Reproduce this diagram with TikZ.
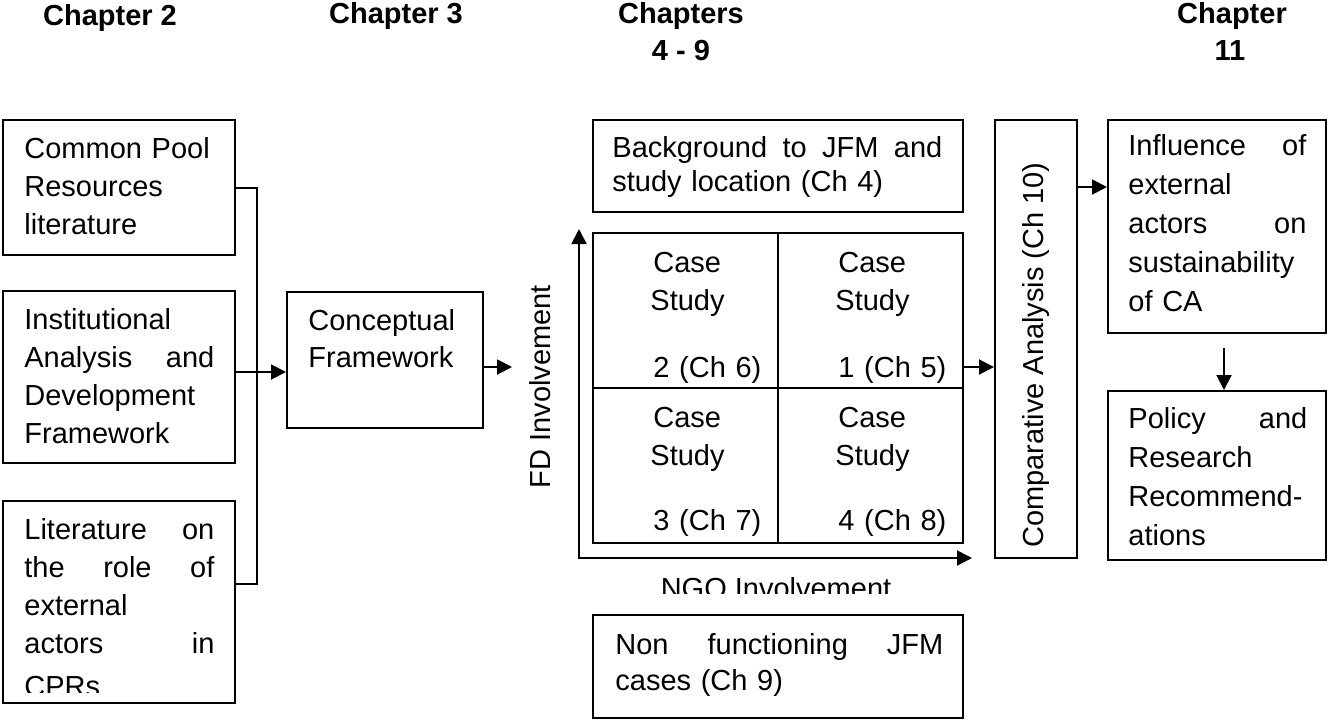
\documentclass[tikz,border=0pt]{standalone}
\usepackage{fontspec}
\setmainfont{Liberation Sans}
\usetikzlibrary{arrows.meta,fit}

\begin{document}
\begin{tikzpicture}[x=0.5pt, y=-0.5pt,
  frame/.style={draw, line width=1pt, inner sep=0pt},
  body/.style={anchor=base west, inner sep=0pt, align=left,
               font=\fontsize{14.5}{19}\selectfont},
  lab/.style={inner sep=0pt, font=\fontsize{14.5}{17}\selectfont},
  head/.style={anchor=base, inner sep=0pt, font=\bfseries\fontsize{14.5}{17}\selectfont},
  link/.style={line width=1pt},
  tip/.tip={Triangle[length=7.5pt,width=7.5pt]},
  arr/.style={line width=1pt, -tip},
]
\useasboundingbox (0,0) rectangle (1328,720);

% chapter headings
\node[head] (h2)   at (110,25)  {Chapter 2};
\node[head] (h3)   at (396,23)  {Chapter 3};
\node[head] (h49a) at (681,23)  {Chapters};
\node[head] (h49b) at (681,60)  {4 - 9};
\node[head] (h11a) at (1232,23) {Chapter};
\node[head] (h11b) at (1230,60) {11};

% frames
\node[frame, fit={(3,120)(235,255)}]      (b1)  {};
\node[frame, fit={(3,291)(235,463)}]      (b2)  {};
\node[frame, fit={(3,501)(235,703)}]      (b3)  {};
\node[frame, fit={(287,292)(483,428)}]    (cf)  {};
\node[frame, fit={(593,120)(963,212)}]    (bg)  {};
\node[frame, fit={(593,233)(778,388)}]    (c2)  {};
\node[frame, fit={(778,233)(963,388)}]    (c1)  {};
\node[frame, fit={(593,388)(778,543)}]    (c3)  {};
\node[frame, fit={(778,388)(963,543)}]    (c4)  {};
\node[frame, fit={(593,615)(963,718)}]    (nf)  {};
\node[frame, fit={(995,120)(1077,558)}]   (cmp) {};
\node[frame, fit={(1108,120)(1326,333)}]  (inf) {};
\node[frame, fit={(1108,391)(1326,560)}]  (pol) {};

% texts of the frames
\node[body, text width=95pt] (t1) at (24,158)
  {Common Pool\\Resources\\literature};
\node[body, text width=95pt] (t2) at (24,329)
  {Institutional\\Analysis\hfill and\\Development\\Framework};
\begin{scope}
  \clip (5,503) rectangle (233,692);
  \node[body, text width=95pt] (t3) at (24,539)
    {Literature\hfill on\\the\hfill role\hfill of\\external\\actors\hfill in\\[2.5pt]CPRs};
\end{scope}
\node[body, text width=80pt, font=\fontsize{14.5}{18.5}\selectfont] (tcf) at (308,330)
  {Conceptual\\Framework};
\node[body, text width=165pt, font=\fontsize{14.5}{17}\selectfont] (tbg) at (612,157)
  {Background\hfill to\hfill JFM\hfill and\\study location (Ch 4)};
\node[body, text width=60pt] (tc2) at (653,272) {Case\\\hspace*{-1.5pt}Study\\[14.5pt]2 (Ch 6)};
\node[body, text width=60pt] (tc1) at (838,272) {Case\\\hspace*{-1.5pt}Study\\[14.5pt]1 (Ch 5)};
\node[body, text width=60pt] (tc3) at (653,427) {Case\\\hspace*{-1.5pt}Study\\[13.5pt]3 (Ch 7)};
\node[body, text width=60pt] (tc4) at (838,427) {Case\\\hspace*{-1.5pt}Study\\[13.5pt]4 (Ch 8)};
\node[body, text width=164pt, font=\fontsize{14.5}{18}\selectfont] (tnf) at (615,654)
  {Non\hfill functioning\hfill JFM\\cases (Ch 9)};
\node[body, text width=89pt, font=\fontsize{14.5}{19.5}\selectfont] (tinf) at (1128,155)
  {Influence\hfill of\\external\\actors\hfill on\\sustainability\\of CA};
\node[body, text width=89.5pt, font=\fontsize{14.5}{19.5}\selectfont] (tpol) at (1128,428)
  {Policy\hfill and\\Research\\Recommend-\\ations};

% axis labels
\node[lab, rotate=90, anchor=base] (fd) at (550,386.5) {FD Involvement};
\node[lab, rotate=90, anchor=base west] (cat) at (1043,548) {Comparative Analysis (Ch 10)};
\begin{scope}
  \clip (560,566) rectangle (1000,593);
  \node[lab, anchor=base] (ngo) at (776,598) {NGO Involvement};
\end{scope}

% connectors
\coordinate (bus1) at (257,188);
\coordinate (bus2) at (257,372);
\coordinate (bus3) at (257,584);
\draw[link] (b1.east |- bus1) -- (bus1) -- (bus3) -- (b3.east |- bus3);
\draw[arr] (b2.east |- bus2) -- (cf.west |- bus2);

\coordinate (fdin) at (512,367);
\draw[arr] (cf.east |- fdin) -- (fdin);

\coordinate (fdtip)  at (579,229);
\coordinate (ngotip) at (972,558);
\draw[line width=1pt, tip-tip] (fdtip) |- (ngotip);

\coordinate (toc) at (963,367);
\draw[arr] (c1.east |- toc) -- (cmp.west |- toc);

\coordinate (toi) at (1077,187);
\draw[arr] (cmp.east |- toi) -- (inf.west |- toi);

\coordinate (dn) at (1224,348);
\draw[arr] (dn) -- (pol.north -| dn);
\end{tikzpicture}
\end{document}
